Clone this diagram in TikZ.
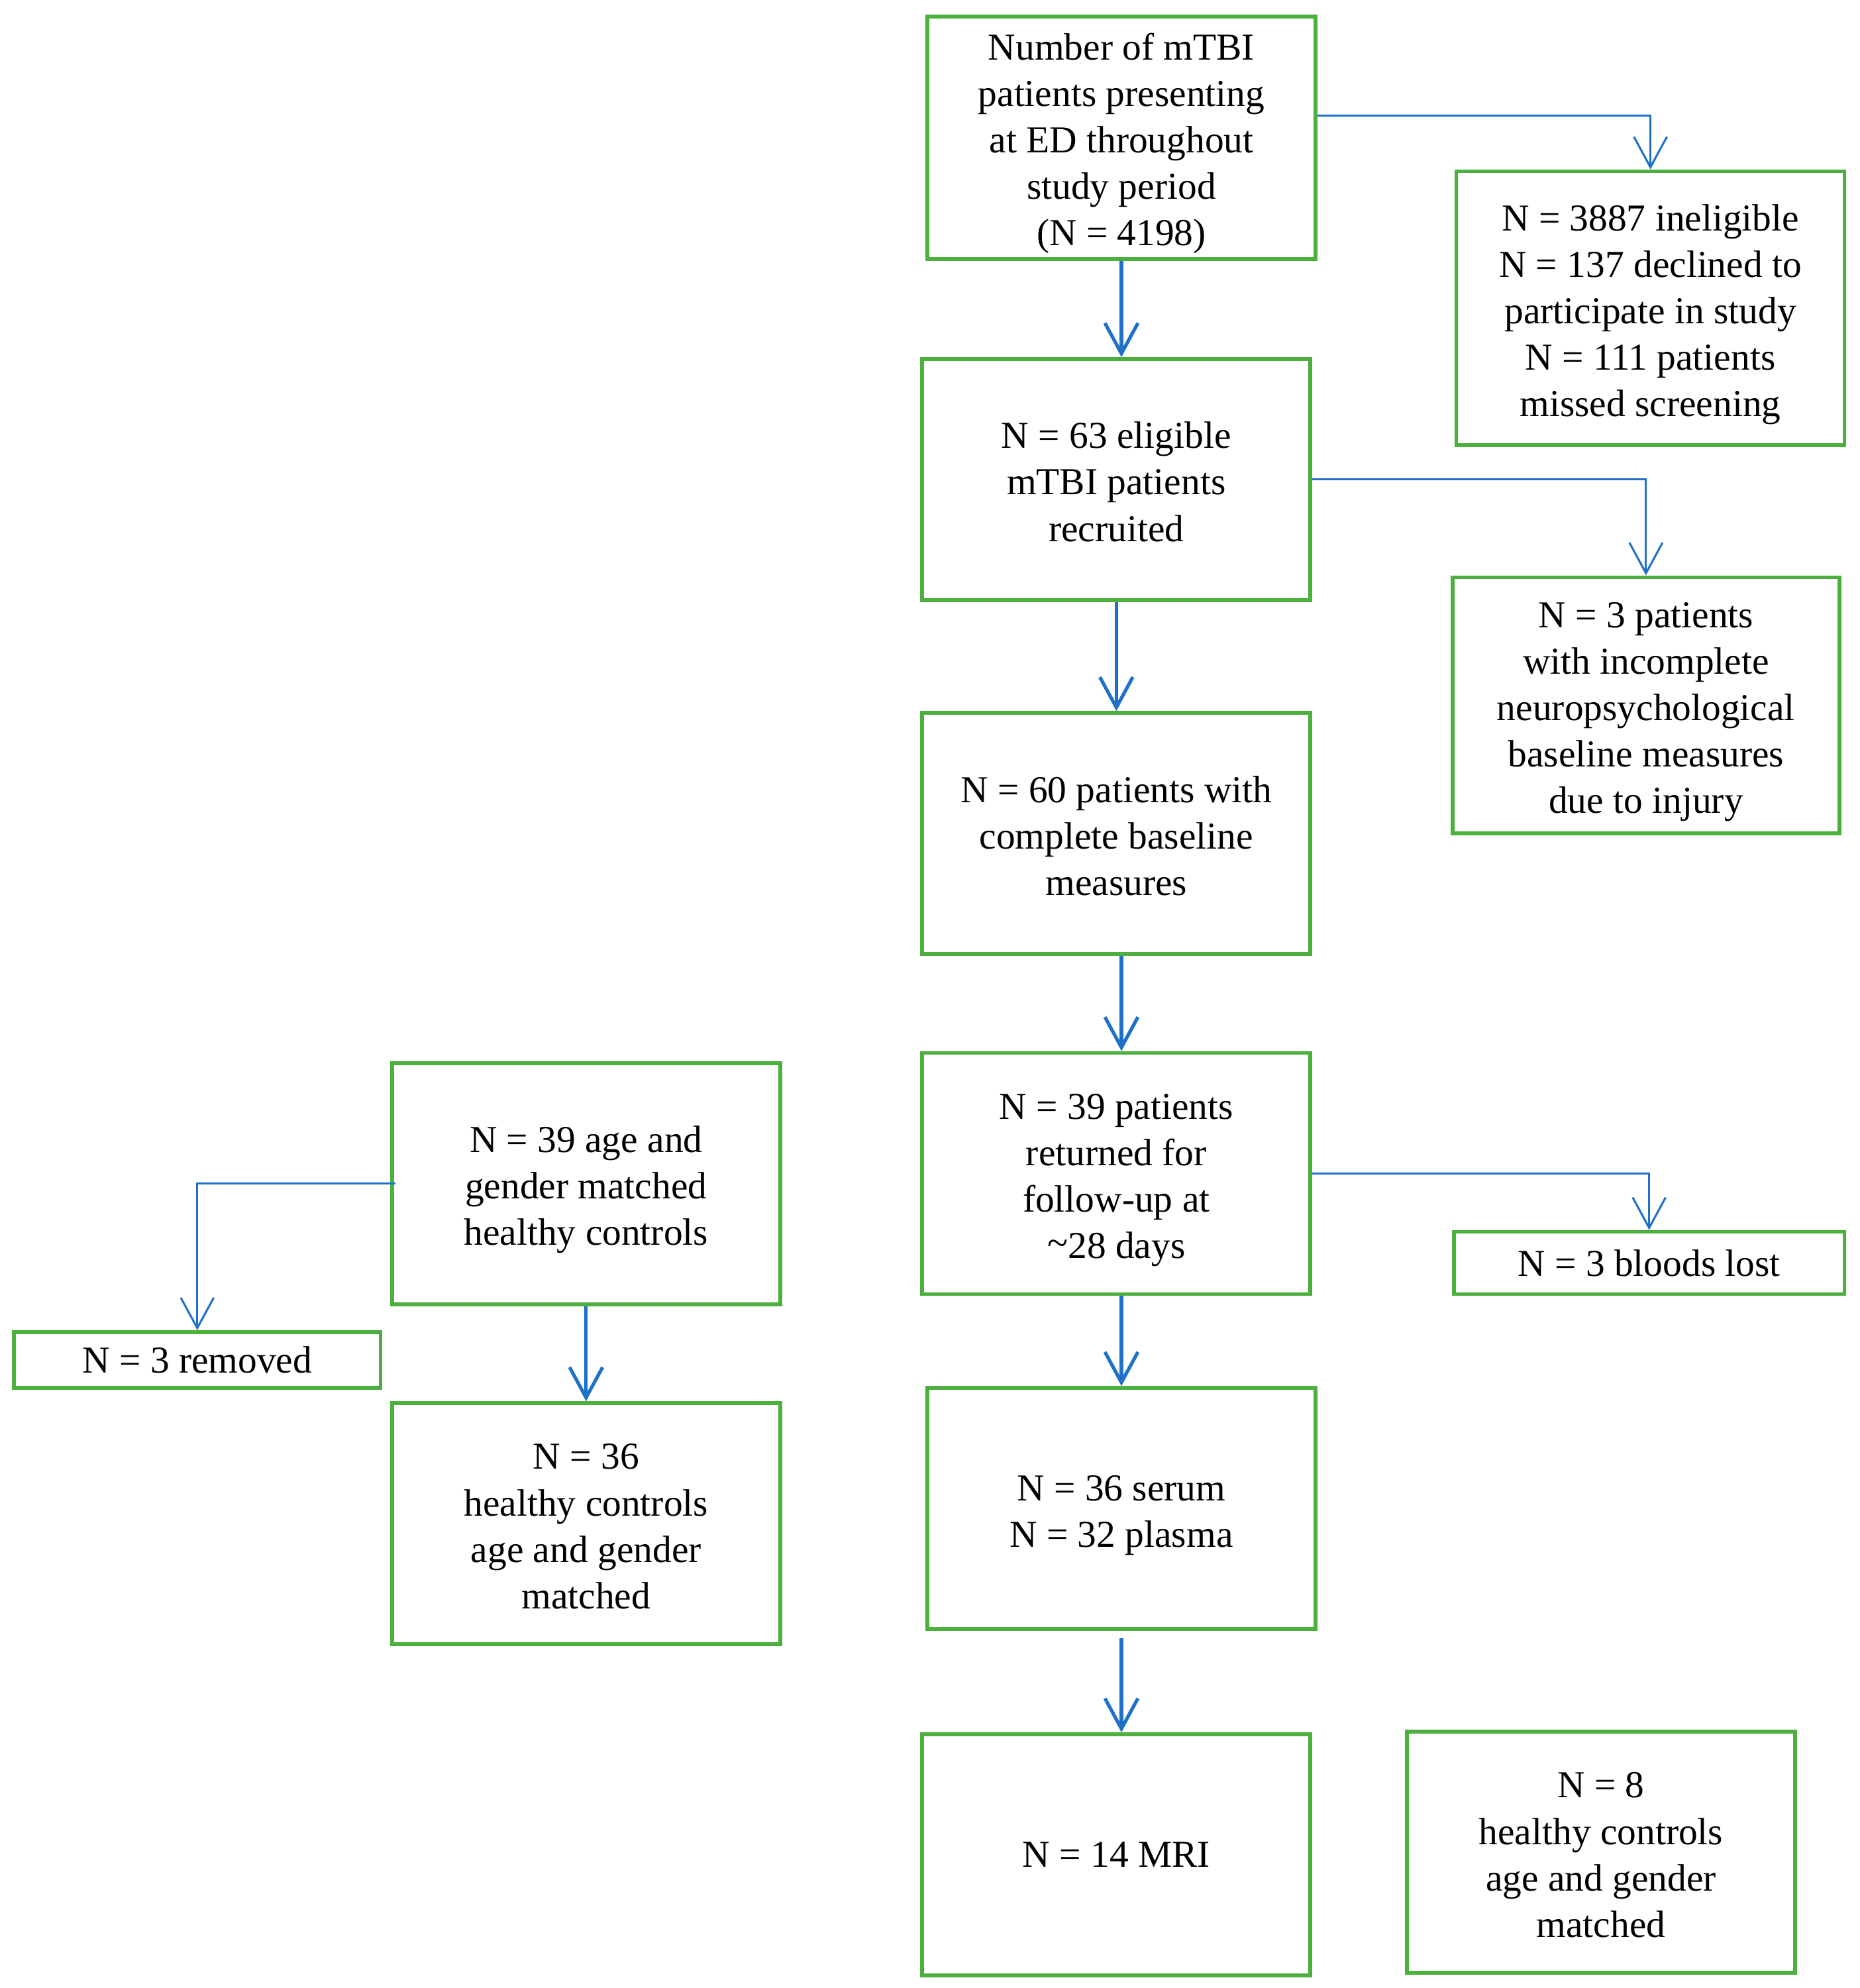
\documentclass[tikz,border=0pt]{standalone}
\usepackage{fontspec}
\setmainfont{Liberation Serif}
\usetikzlibrary{arrows.meta}
\definecolor{boxgreen}{RGB}{76,175,62}
\definecolor{arrblue}{RGB}{30,112,200}
\newcommand\mytopstrut{\rule{0pt}{31pt}}
\newcommand\mybotstrut{\rule[-7pt]{0pt}{7pt}}
\begin{document}
\begin{tikzpicture}[x=1pt,y=-1pt,
  box/.style={draw=boxgreen, line width=3pt, rectangle, align=center, inner sep=0pt,
    font=\fontsize{30}{36.6}\selectfont, minimum width=306pt, minimum height=191pt},
  thick arrow/.style={draw=arrblue, line width=2.7pt, -{Straight Barb[length=24pt,width=26pt]}},
  thin arrow/.style={draw=arrblue, line width=1.6pt, -{Straight Barb[length=24pt,width=26pt]}}]
\useasboundingbox (0,0) rectangle (1466,1567);
\node[box] (top) at (884,108.5) {\mytopstrut Number of mTBI\\patients presenting\\at ED throughout\\study period\\(N = 4198)\mybotstrut};
\node[box, minimum height=216pt] (inel) at (1301,243) {\mytopstrut N = 3887 ineligible\\N = 137 declined to\\participate in study\\N = 111 patients\\missed screening\mybotstrut};
\node[box, minimum height=190pt] (n63) at (880,378) {\mytopstrut N = 63 eligible\\mTBI patients\\recruited\mybotstrut};
\node[box, minimum width=305pt, minimum height=202pt] (n3p) at (1297.5,556) {\mytopstrut N = 3 patients\\with incomplete\\neuropsychological\\baseline measures\\due to injury\mybotstrut};
\node[box, minimum height=190pt] (n60) at (880,657) {\mytopstrut N = 60 patients with\\complete baseline\\measures\mybotstrut};
\node[box, minimum height=190pt] (n39) at (880,925) {\mytopstrut N = 39 patients\\returned for\\follow-up at\\{\raisebox{0.15ex}{\textasciitilde}}28 days\mybotstrut};
\node[box, minimum width=308pt, minimum height=49pt] (lost) at (1300,995.5) {N = 3 bloods lost};
\node[box, minimum height=190pt] (serum) at (884,1189) {\mytopstrut N = 36 serum\\N = 32 plasma\mybotstrut};
\node[box, minimum height=190pt] (mri) at (880,1462) {N = 14 MRI};
\node[box, minimum height=190pt] (n8) at (1262,1460) {\mytopstrut N = 8\\healthy controls\\age and gender\\matched\mybotstrut};
\node[box, minimum height=190pt] (age) at (462,933) {\mytopstrut N = 39 age and\\gender matched\\healthy controls\mybotstrut};
\node[box, minimum width=289pt, minimum height=44pt] (removed) at (155.5,1072) {N = 3 removed};
\node[box, minimum height=190pt] (h36) at (462,1201) {\mytopstrut N = 36\\healthy controls\\age and gender\\matched\mybotstrut};
% vertical main arrows
\draw[thick arrow] (top.south) -- (top.south |- n63.north);
\draw[thick arrow] (n63.south) -- (n60.north);
\draw[thick arrow] ([xshift=4pt]n60.south) -- ([xshift=4pt]n39.north);
\draw[thick arrow] (serum.south |- n39.south) -- (serum.north);
\draw[thick arrow] ([yshift=-6pt]serum.south) -- (serum.south |- mri.north);
\draw[thick arrow] (age.south) -- (h36.north);
% side connectors
\draw[thin arrow] ([yshift=17.5pt]top.east) -| (inel.north);
\draw[thin arrow] (n63.east) -| (n3p.north);
\draw[thin arrow] (n39.east) -| (lost.north);
\draw[thin arrow] ([xshift=4pt]age.west) -| (removed.north);
\end{tikzpicture}
\end{document}
